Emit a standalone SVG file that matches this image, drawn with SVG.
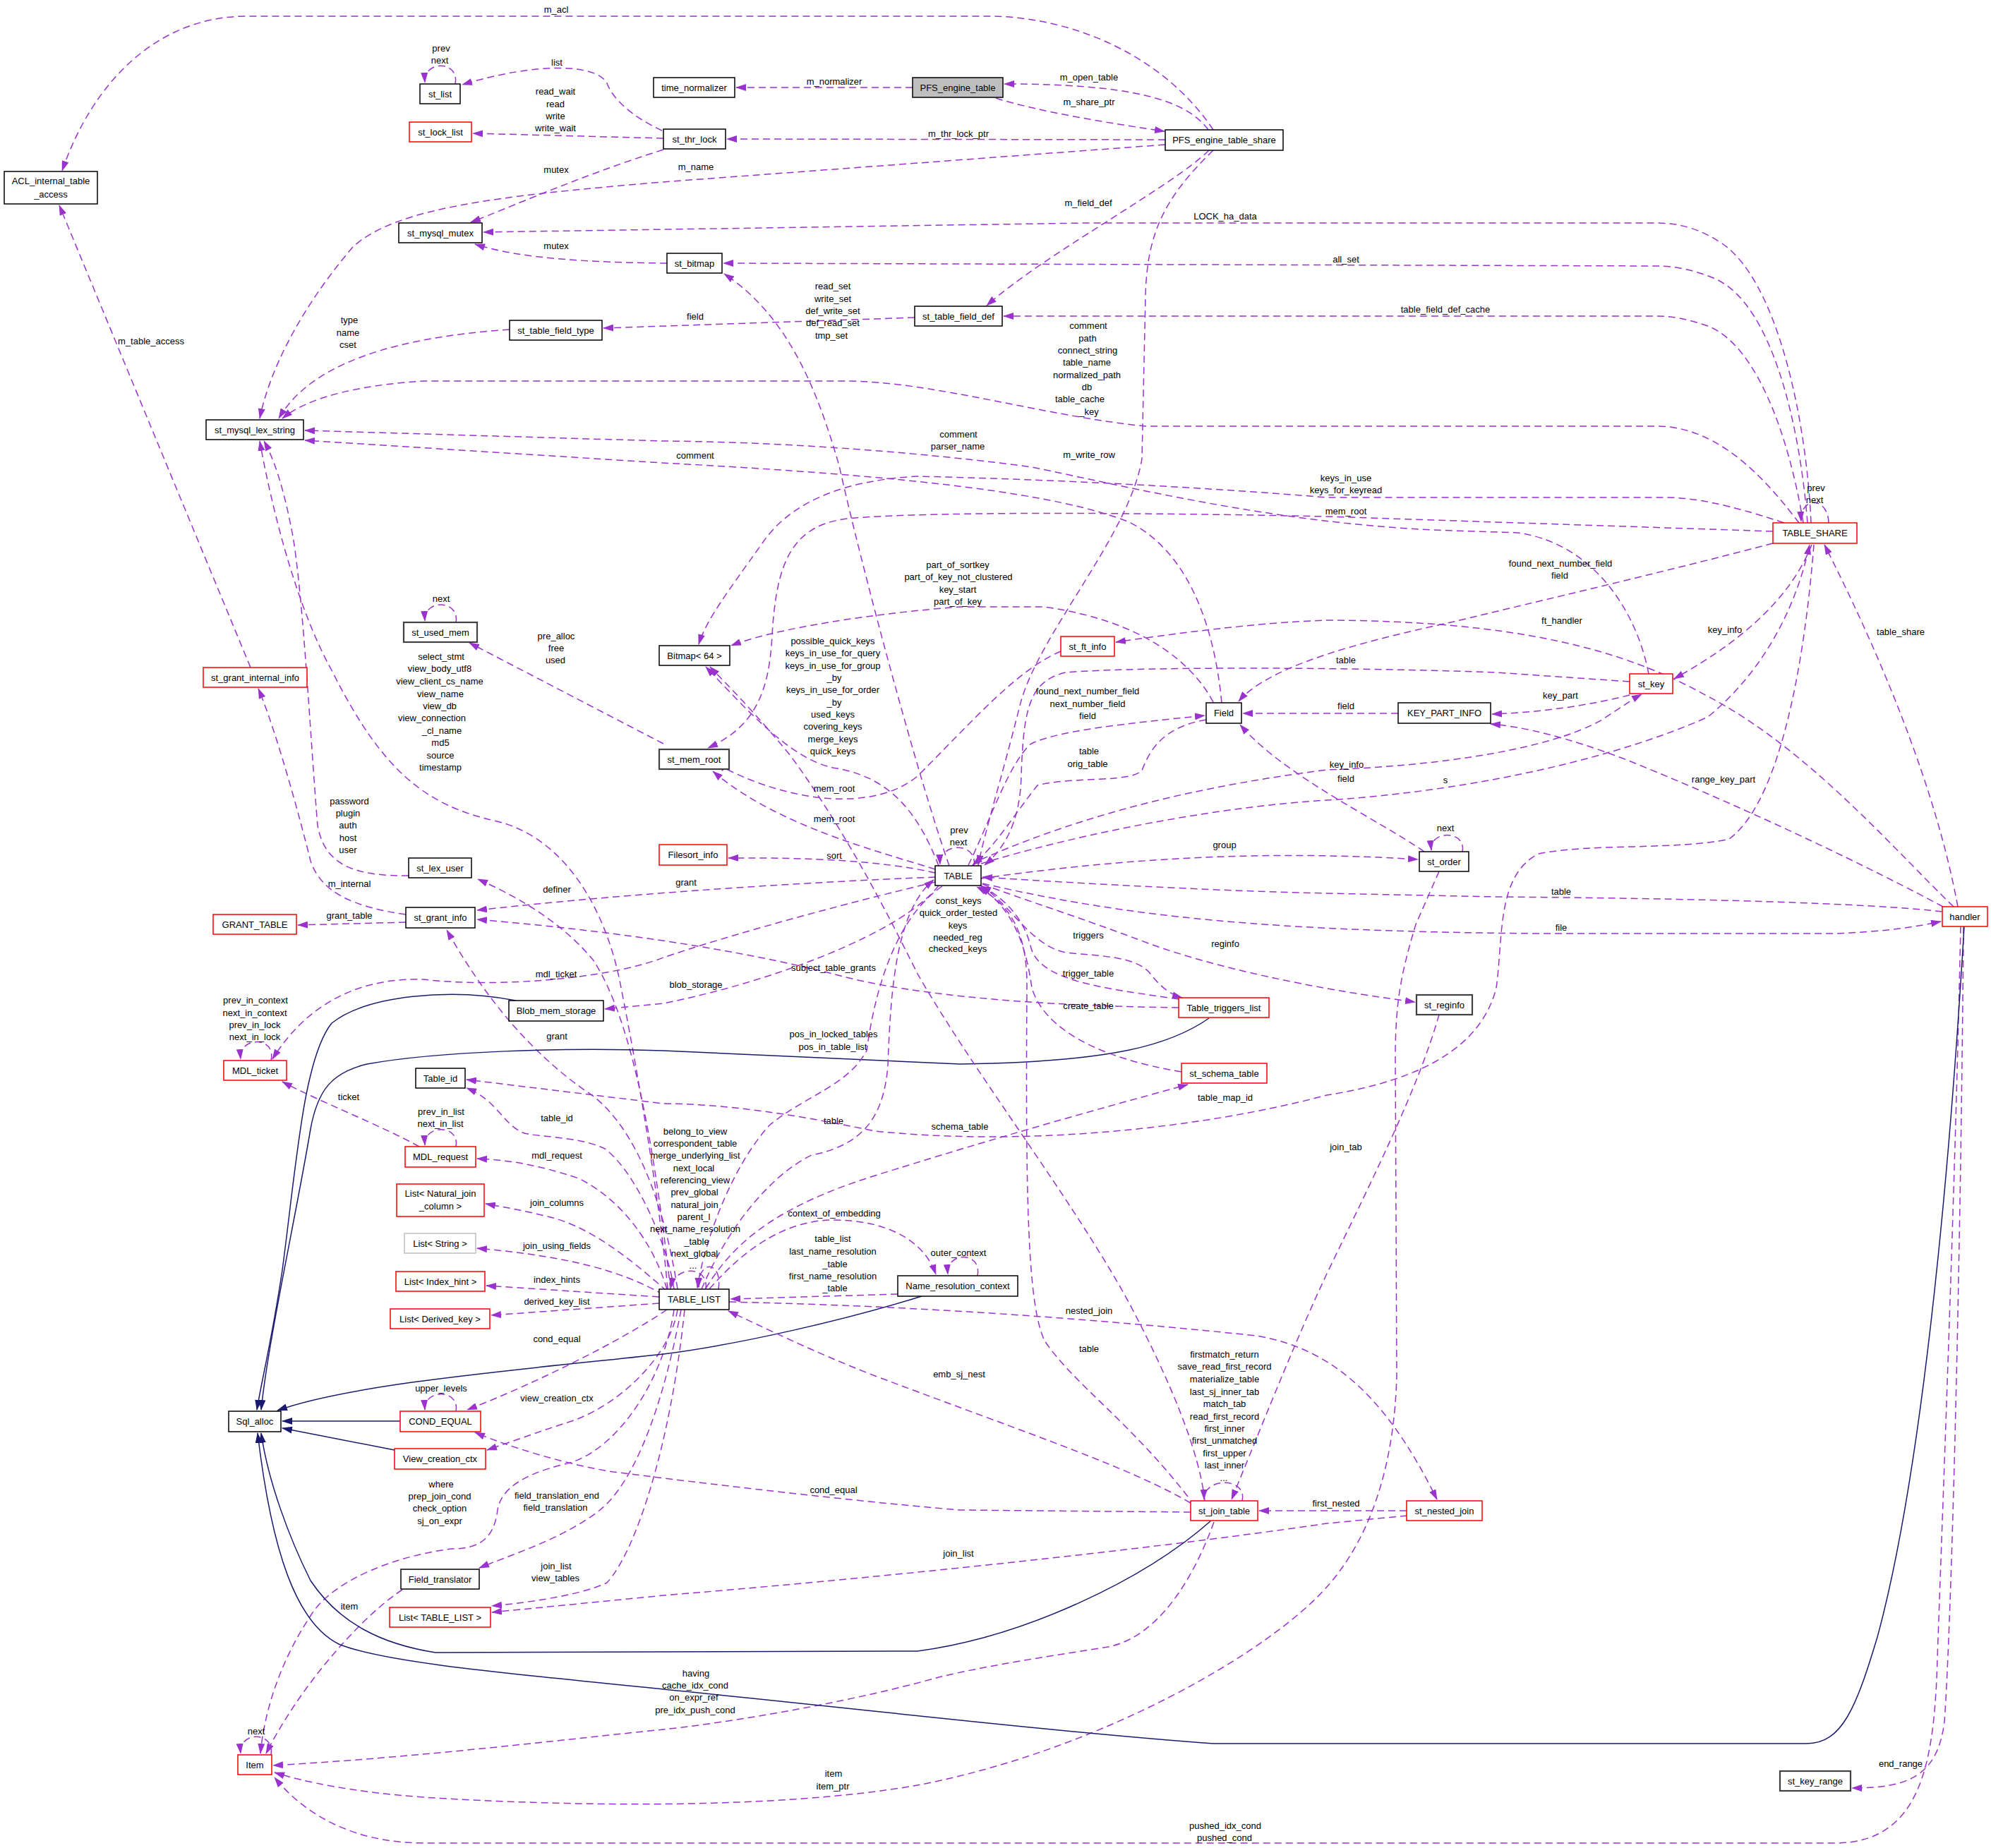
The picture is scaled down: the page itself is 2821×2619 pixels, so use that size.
<svg xmlns="http://www.w3.org/2000/svg" width="2821" height="2619" viewBox="0 0 2821 2619">
<style>
.n rect{fill:#fff;stroke:#000;stroke-width:1.5}
.n.r rect{stroke:#ff0000}
.n.g rect{stroke:#bfbfbf}
.n.d rect{stroke:#404040;stroke-width:2.2}
.n.m rect{fill:#bfbfbf}
text{font-family:"Liberation Sans",Arial,sans-serif;font-size:13px;text-anchor:middle;dominant-baseline:central;fill:#000}
.e{fill:none;stroke:#9a32cd;stroke-width:1.5;stroke-dasharray:10,6;marker-end:url(#ap)}
.s{fill:none;stroke:#191970;stroke-width:1.5;marker-end:url(#an)}
</style>
<defs>
<marker id="ap" viewBox="0 0 15 10" refX="14" refY="5" markerWidth="15" markerHeight="10" markerUnits="userSpaceOnUse" orient="auto"><path d="M0,0 L15,5 L0,10 z" fill="#9a32cd" stroke="none"/></marker>
<marker id="an" viewBox="0 0 15 10" refX="14" refY="5" markerWidth="15" markerHeight="10" markerUnits="userSpaceOnUse" orient="auto"><path d="M0,0 L15,5 L0,10 z" fill="#191970" stroke="none"/></marker>
</defs>
<rect x="0" y="0" width="2821" height="2619" fill="#fff"/>
<g id="connectors">
<path class="e" d="M1293,124 L1043,124"/>
<path class="e" d="M1411,139 C1470,158 1580,176 1650,186"/>
<path class="e" d="M1712,184 C1680,140 1600,119 1423,119"/>
<path class="e" d="M1719,184 C1650,80 1520,23 1400,23 L350,23 C220,23 130,120 88,242"/>
<path class="e" d="M1651,198 L1030,197"/>
<path class="e" d="M1651,205 L938,258 C700,278 560,295 500,350 C440,420 385,510 368,593"/>
<path class="e" d="M1713,213 C1660,265 1480,360 1398,433"/>
<path class="e" d="M1719,213 C1650,280 1625,330 1623,420 L1618,650 C1600,760 1470,900 1445,1000 C1420,1100 1395,1180 1386,1226"/>
<path class="e" d="M2566,741 C2560,600 2520,400 2440,345 C2410,325 2380,316 2348,316 L1540,316 L685,329"/>
<path class="e" d="M2561,741 C2550,600 2510,430 2430,395 C2400,382 2370,377 2348,377 L1025,373"/>
<path class="e" d="M2555,741 C2535,620 2490,490 2420,462 C2390,452 2370,448 2348,448 L1422,448"/>
<path class="e" d="M2549,741 C2510,690 2440,604 2348,604 L1623,604 C1480,590 1320,540 1198,540 L600,540 C520,545 440,560 400,593"/>
<path class="e" d="M645,119 C652,86 600,84 602,117"/>
<path class="e" d="M938,185 C895,165 868,140 860,118 C845,90 760,88 655,120"/>
<path class="e" d="M940,196 L670,189"/>
<path class="e" d="M940,212 C820,250 720,295 667,315"/>
<path class="e" d="M945,373 C850,372 740,368 673,346"/>
<path class="e" d="M722,467 C560,478 440,515 395,593"/>
<path class="e" d="M1296,450 L855,465"/>
<path class="e" d="M355,946 L84,291"/>
<path class="e" d="M646,882 C652,850 600,848 602,880"/>
<path class="e" d="M940,1054 L665,911"/>
<path class="e" d="M946,1827 C935,1700 900,1500 880,1400 C860,1290 800,1185 700,1163 C600,1140 540,1090 470,950 C420,860 385,720 368,625"/>
<path class="e" d="M579,1241 C500,1242 460,1225 450,1170 C440,1050 430,850 415,760 C400,680 385,645 374,625"/>
<path class="e" d="M575,1296 C500,1285 455,1265 440,1220 C415,1120 385,1020 366,976"/>
<path class="e" d="M575,1307 L422,1311"/>
<path class="e" d="M950,1827 C930,1650 900,1450 840,1360 C790,1300 720,1265 677,1246"/>
<path class="e" d="M1325,1243 C1150,1250 900,1265 676,1290"/>
<path class="e" d="M960,1827 C940,1700 900,1600 840,1553 C760,1500 690,1420 633,1318"/>
<path class="e" d="M1670,1428 C1500,1426 1300,1414 1180,1380 C1060,1350 900,1322 676,1303"/>
<path class="e" d="M1325,1250 C1200,1280 1050,1320 940,1357 C860,1388 700,1400 600,1388 C500,1385 430,1430 386,1501"/>
<path class="e" d="M1330,1255 C1280,1320 1100,1390 940,1422 L857,1430"/>
<path class="e" d="M384,1503 C392,1468 338,1468 341,1501"/>
<path class="e" d="M594,1625 C540,1595 450,1560 400,1533"/>
<path class="e" d="M646,1625 C652,1593 600,1593 602,1623"/>
<path class="e" d="M945,1827 C925,1760 880,1700 820,1670 C760,1650 720,1644 676,1642"/>
<path class="e" d="M945,1830 C900,1790 840,1740 780,1725 C740,1715 710,1710 688,1706"/>
<path class="e" d="M940,1835 C880,1800 800,1780 676,1769"/>
<path class="e" d="M934,1838 L689,1822"/>
<path class="e" d="M934,1847 L696,1864"/>
<path class="e" d="M945,1856 C880,1900 760,1960 662,1998"/>
<path class="e" d="M646,2000 C652,1968 600,1968 602,1998"/>
<path class="e" d="M960,1856 C950,1920 880,1990 810,2014 C760,2030 720,2045 690,2055"/>
<path class="e" d="M955,1856 C940,1960 870,2060 800,2075 C740,2090 710,2110 705,2140 C700,2180 680,2195 640,2195 C560,2205 470,2240 440,2290 C400,2350 375,2420 369,2485"/>
<path class="e" d="M965,1856 C940,1990 900,2100 850,2140 C800,2180 720,2205 679,2222"/>
<path class="e" d="M970,1856 C950,2050 900,2200 860,2243 C820,2262 740,2272 697,2276"/>
<path class="e" d="M1994,2148 L1880,2159 C1600,2200 1200,2240 940,2261 L697,2285"/>
<path class="e" d="M570,2253 C520,2285 430,2380 377,2485"/>
<path class="e" d="M2039,1235 L2006,1310 C1985,1380 1977,1420 1977,1500 L1979,1950 C1976,2060 1950,2170 1880,2249 C1800,2340 1560,2480 1300,2530 C1100,2565 800,2560 600,2547 C500,2540 430,2525 389,2512"/>
<path class="e" d="M2778,1313 C2770,1700 2750,2200 2744,2380 C2738,2500 2720,2612 2600,2612 L600,2612 C500,2612 430,2570 389,2519"/>
<path class="e" d="M2782,1313 C2778,1800 2765,2300 2755,2440 C2745,2520 2700,2534 2624,2534"/>
<path class="e" d="M1720,2157 C1690,2240 1640,2320 1570,2334 C1500,2345 1400,2360 1330,2377 C1180,2419 1000,2445 940,2451 C800,2465 600,2490 387,2502"/>
<path class="s" d="M2783,1313 C2760,1700 2720,2100 2660,2320 C2630,2420 2610,2471 2560,2471 L1719,2471 C1500,2455 1200,2420 940,2394 C700,2370 540,2355 480,2330 C420,2300 385,2200 365,2031"/>
<path class="s" d="M1716,2155 C1620,2240 1450,2320 1300,2340 L617,2342 C540,2330 480,2300 440,2240 C410,2180 380,2100 370,2031"/>
<path class="s" d="M731,1418 C640,1400 520,1410 470,1450 C430,1500 420,1650 400,1800 C385,1900 370,1960 364,1998"/>
<path class="s" d="M1713,1443 C1660,1480 1580,1505 1360,1508 L940,1489 C800,1484 620,1490 520,1508 C470,1520 450,1545 440,1600 C420,1720 380,1900 370,1998"/>
<path class="s" d="M1306,1837 C1200,1870 1050,1905 940,1919 C750,1940 500,1960 393,1999"/>
<path class="s" d="M567,2014 L400,2014"/>
<path class="s" d="M559,2055 L400,2024"/>
<path class="e" d="M384,2487 C390,2453 338,2453 341,2485"/>
<path class="e" d="M1380,1227 C1386,1193 1330,1193 1332,1225"/>
<path class="e" d="M1325,1237 C1250,1220 1150,1215 1032,1216"/>
<path class="e" d="M1325,1232 C1240,1205 1100,1170 1010,1093"/>
<path class="e" d="M1503,923 C1440,950 1380,1020 1300,1100 C1240,1150 1120,1140 1014,1082"/>
<path class="e" d="M2512,753 L1880,732 C1600,726 1300,725 1200,735 C1120,745 1100,800 1094,900 C1090,980 1070,1030 1003,1060"/>
<path class="e" d="M2528,741 C2450,715 2400,705 2360,705 L1880,705 C1700,690 1480,679 1300,675 C1200,680 1120,710 1080,770 C1030,840 1000,880 990,913"/>
<path class="e" d="M1719,995 C1690,940 1620,880 1480,860 L1360,860 C1240,869 1100,890 1036,915"/>
<path class="e" d="M1330,1227 C1300,1150 1260,1100 1180,1088 C1120,1075 1060,1008 1000,945"/>
<path class="e" d="M1707,2127 C1700,2060 1660,1960 1600,1847 C1520,1700 1380,1520 1300,1380 C1260,1300 1200,1180 1120,1071 C1070,1010 1030,970 1006,945"/>
<path class="e" d="M1345,1227 C1300,1100 1220,800 1189,660 C1160,560 1120,450 1026,388"/>
<path class="e" d="M1372,1226 C1400,1170 1430,1080 1461,1054 C1500,1035 1600,1025 1707,1014"/>
<path class="e" d="M1709,1020 C1650,1030 1630,1060 1618,1092 C1600,1110 1520,1100 1470,1113 C1440,1150 1410,1200 1378,1226"/>
<path class="e" d="M1731,996 C1720,880 1680,780 1600,740 C1500,700 1300,675 938,656 L432,624"/>
<path class="e" d="M2336,955 C2320,870 2260,770 2150,755 L2030,751 C1800,740 1600,690 1462,662 C1300,640 1100,626 938,625 L432,610"/>
<path class="e" d="M2512,770 C2360,810 2180,852 2060,881 C1950,905 1800,940 1755,994"/>
<path class="e" d="M2309,966 L2120,953 C1900,945 1600,945 1510,953 C1460,965 1450,1000 1447,1100 C1445,1170 1420,1205 1395,1226"/>
<path class="e" d="M1390,1218 C1500,1170 1650,1120 1880,1091 C2050,1085 2200,1060 2270,1020 C2300,1000 2315,990 2326,984"/>
<path class="e" d="M1390,1224 C1500,1190 1700,1145 1880,1134 C2100,1120 2300,1070 2420,1016 C2500,950 2545,860 2564,772"/>
<path class="e" d="M2018,1207 C1950,1160 1820,1100 1757,1027"/>
<path class="e" d="M1390,1245 C1600,1215 1800,1205 2009,1218"/>
<path class="e" d="M2072,1207 C2078,1176 2025,1176 2028,1205"/>
<path class="e" d="M2752,1292 C2650,1280 2400,1273 2120,1271 L1880,1266 C1700,1262 1500,1250 1392,1243"/>
<path class="e" d="M1392,1252 C1600,1300 1800,1320 2180,1323 L2600,1323 C2680,1320 2720,1312 2750,1306"/>
<path class="e" d="M2768,1285 C2680,1200 2560,1060 2420,987 C2300,920 2150,880 1880,879 C1780,882 1650,900 1581,910"/>
<path class="e" d="M2774,1285 C2740,1100 2650,900 2585,772"/>
<path class="e" d="M2753,1285 C2660,1235 2480,1147 2300,1075 C2220,1045 2160,1030 2112,1026"/>
<path class="e" d="M2309,985 C2250,1000 2180,1010 2114,1012"/>
<path class="e" d="M1981,1011 L1761,1011"/>
<path class="e" d="M2567,772 C2540,840 2480,902 2372,962"/>
<path class="e" d="M2591,741 C2590,703 2550,703 2552,739"/>
<path class="e" d="M2570,772 C2560,900 2530,1130 2450,1189 C2380,1205 2250,1195 2180,1210 C2120,1240 2130,1330 2120,1400 C2100,1480 2020,1530 1880,1552 C1700,1600 1450,1625 1240,1603 C1150,1585 1050,1565 940,1564 L661,1530"/>
<path class="e" d="M955,1827 C945,1760 900,1660 857,1628 C820,1610 760,1612 740,1605 C710,1590 705,1560 661,1542"/>
<path class="e" d="M1392,1253 C1450,1275 1530,1300 1630,1338 C1720,1370 1850,1400 2005,1420"/>
<path class="e" d="M2039,1438 C2010,1540 1950,1660 1880,1805 C1840,1890 1800,1990 1745,2125"/>
<path class="e" d="M1390,1255 C1430,1280 1460,1340 1510,1350 C1560,1355 1610,1355 1630,1380 C1645,1400 1660,1410 1675,1414"/>
<path class="e" d="M1670,1416 C1560,1400 1470,1390 1460,1340 C1450,1300 1420,1270 1390,1256"/>
<path class="e" d="M1674,1519 C1560,1500 1480,1460 1462,1400 C1455,1350 1440,1290 1388,1257"/>
<path class="e" d="M1683,2121 C1600,2014 1520,1960 1480,1900 C1456,1850 1453,1700 1455,1400 C1456,1320 1430,1280 1384,1257"/>
<path class="e" d="M1000,1826 C1040,1760 1100,1710 1240,1666 C1450,1600 1600,1560 1683,1537"/>
<path class="e" d="M994,1827 C1030,1742 1090,1666 1150,1637 C1216,1624 1252,1590 1258,1510 C1262,1400 1270,1290 1323,1247"/>
<path class="e" d="M1335,1256 C1270,1300 1240,1400 1228,1489 C1200,1540 1140,1553 1090,1595 C1040,1650 1000,1750 988,1825"/>
<path class="e" d="M1000,1827 C1005,1793 955,1793 951,1825"/>
<path class="e" d="M1018,1827 C1024,1785 988,1785 990,1825"/>
<path class="e" d="M1005,1827 C1060,1763 1120,1729 1180,1729 C1260,1729 1310,1760 1326,1806"/>
<path class="e" d="M1385,1808 C1392,1773 1340,1773 1343,1806"/>
<path class="e" d="M1272,1834 L1035,1841"/>
<path class="e" d="M1033,1845 C1300,1851 1540,1868 1780,1893 C1880,1910 1960,1970 2036,2125"/>
<path class="e" d="M1993,2141 L1784,2141"/>
<path class="e" d="M1760,2127 C1768,2093 1705,2093 1706,2125"/>
<path class="e" d="M1687,2130 C1600,2080 1480,2040 1240,1950 C1150,1915 1080,1880 1032,1858"/>
<path class="e" d="M1687,2143 L1360,2140 C1180,2125 940,2095 869,2086 C800,2075 720,2050 673,2030"/>
</g>
<g id="edge-labels">
<text x="788" y="13">m_acl</text>
<text x="625" y="68">prev</text><text x="623" y="85">next</text>
<text x="789" y="88">list</text>
<text x="787" y="129">read_wait</text><text x="787" y="147">read</text><text x="787" y="164">write</text><text x="787" y="181">write_wait</text>
<text x="788" y="240">mutex</text>
<text x="788" y="348">mutex</text>
<text x="495" y="453">type</text><text x="493" y="471">name</text><text x="493" y="488">cset</text>
<text x="214" y="483">m_table_access</text>
<text x="1182" y="115">m_normalizer</text>
<text x="1543" y="109">m_open_table</text>
<text x="1543" y="144">m_share_ptr</text>
<text x="1358" y="189">m_thr_lock_ptr</text>
<text x="986" y="236">m_name</text>
<text x="1542" y="287">m_field_def</text>
<text x="1736" y="306">LOCK_ha_data</text>
<text x="1907" y="367">all_set</text>
<text x="2048" y="438">table_field_def_cache</text>
<text x="1180" y="405">read_set</text><text x="1180" y="423">write_set</text><text x="1180" y="440">def_write_set</text><text x="1180" y="457">def_read_set</text><text x="1178" y="475">tmp_set</text>
<text x="985" y="448">field</text>
<text x="1542" y="461">comment</text><text x="1541" y="479">path</text><text x="1541" y="496">connect_string</text><text x="1540" y="513">table_name</text><text x="1540" y="531">normalized_path</text><text x="1540" y="548">db</text><text x="1530" y="565">table_cache</text><text x="1543" y="583">_key</text>
<text x="1358" y="615">comment</text><text x="1357" y="632">parser_name</text>
<text x="985" y="645">comment</text>
<text x="1543" y="644">m_write_row</text>
<text x="625" y="848">next</text>
<text x="788" y="901">pre_alloc</text><text x="788" y="918">free</text><text x="787" y="935">used</text>
<text x="625" y="930">select_stmt</text><text x="623" y="947">view_body_utf8</text><text x="623" y="965">view_client_cs_name</text><text x="624" y="983">view_name</text><text x="623" y="1000">view_db</text><text x="612" y="1017">view_connection</text><text x="626" y="1035">_cl_name</text><text x="624" y="1052">md5</text><text x="624" y="1070">source</text><text x="624" y="1087">timestamp</text>
<text x="495" y="1135">password</text><text x="493" y="1152">plugin</text><text x="493" y="1169">auth</text><text x="493" y="1187">host</text><text x="493" y="1204">user</text>
<text x="495" y="1252">m_internal</text>
<text x="789" y="1260">definer</text>
<text x="495" y="1297">grant_table</text>
<text x="1357" y="800">part_of_sortkey</text><text x="1358" y="817">part_of_key_not_clustered</text><text x="1357" y="835">key_start</text><text x="1357" y="852">part_of_key</text>
<text x="1180" y="908">possible_quick_keys</text><text x="1180" y="925">keys_in_use_for_query</text><text x="1180" y="943">keys_in_use_for_group</text><text x="1182" y="960">_by</text><text x="1180" y="977">keys_in_use_for_order</text><text x="1182" y="995">_by</text><text x="1180" y="1012">used_keys</text><text x="1180" y="1029">covering_keys</text><text x="1180" y="1047">merge_keys</text><text x="1180" y="1064">quick_keys</text>
<text x="1541" y="979">found_next_number_field</text><text x="1541" y="997">next_number_field</text><text x="1541" y="1014">field</text>
<text x="1543" y="1064">table</text><text x="1541" y="1082">orig_table</text>
<text x="1182" y="1117">mem_root</text>
<text x="1182" y="1160">mem_root</text>
<text x="1359" y="1176">prev</text><text x="1358" y="1193">next</text>
<text x="1182" y="1212">sort</text>
<text x="972" y="1250">grant</text>
<text x="1735" y="1197">group</text>
<text x="1358" y="1276">const_keys</text><text x="1358" y="1293">quick_order_tested</text><text x="1357" y="1311">keys</text><text x="1357" y="1328">needed_reg</text><text x="1357" y="1344">checked_keys</text>
<text x="1907" y="677">keys_in_use</text><text x="1907" y="694">keys_for_keyread</text>
<text x="1907" y="724">mem_root</text>
<text x="2573" y="691">prev</text><text x="2571" y="708">next</text>
<text x="2211" y="798">found_next_number_field</text><text x="2210" y="815">field</text>
<text x="2213" y="879">ft_handler</text>
<text x="2444" y="892">key_info</text>
<text x="2693" y="895">table_share</text>
<text x="1907" y="935">table</text>
<text x="2211" y="985">key_part</text>
<text x="1907" y="1000">field</text>
<text x="1908" y="1083">key_info</text><text x="1907" y="1103">field</text><text x="2048" y="1105">s</text>
<text x="2442" y="1104">range_key_part</text>
<text x="2048" y="1173">next</text>
<text x="2212" y="1263">table</text>
<text x="2212" y="1314">file</text>
<text x="1907" y="1625">join_tab</text>
<text x="788" y="1380">mdl_ticket</text>
<text x="362" y="1417">prev_in_context</text><text x="361" y="1435">next_in_context</text><text x="361" y="1452">prev_in_lock</text><text x="361" y="1469">next_in_lock</text>
<text x="789" y="1468">grant</text>
<text x="494" y="1554">ticket</text>
<text x="625" y="1575">prev_in_list</text><text x="624" y="1592">next_in_list</text>
<text x="789" y="1584">table_id</text>
<text x="789" y="1637">mdl_request</text>
<text x="789" y="1704">join_columns</text>
<text x="789" y="1765">join_using_fields</text>
<text x="789" y="1813">index_hints</text>
<text x="789" y="1844">derived_key_list</text>
<text x="789" y="1897">cond_equal</text>
<text x="1542" y="1325">triggers</text>
<text x="1736" y="1337">reginfo</text>
<text x="1181" y="1371">subject_table_grants</text>
<text x="986" y="1395">blob_storage</text>
<text x="1542" y="1379">trigger_table</text>
<text x="1542" y="1425">create_table</text>
<text x="1181" y="1465">pos_in_locked_tables</text><text x="1180" y="1483">pos_in_table_list</text>
<text x="1736" y="1555">table_map_id</text>
<text x="1181" y="1588">table</text>
<text x="1360" y="1596">schema_table</text>
<text x="985" y="1603">belong_to_view</text><text x="985" y="1620">correspondent_table</text><text x="985" y="1637">merge_underlying_list</text><text x="983" y="1655">next_local</text><text x="985" y="1672">referencing_view</text><text x="984" y="1689">prev_global</text><text x="984" y="1707">natural_join</text><text x="983" y="1724">parent_l</text><text x="985" y="1741">next_name_resolution</text><text x="987" y="1759">_table</text><text x="984" y="1776">next_global</text><text x="982" y="1793">...</text>
<text x="1182" y="1719">context_of_embedding</text>
<text x="1180" y="1755">table_list</text><text x="1180" y="1773">last_name_resolution</text><text x="1183" y="1791">_table</text><text x="1180" y="1808">first_name_resolution</text><text x="1183" y="1825">_table</text>
<text x="1358" y="1775">outer_context</text>
<text x="1543" y="1857">nested_join</text>
<text x="1543" y="1911">table</text>
<text x="1735" y="1919">firstmatch_return</text><text x="1735" y="1936">save_read_first_record</text><text x="1735" y="1954">materialize_table</text><text x="1735" y="1972">last_sj_inner_tab</text><text x="1735" y="1989">match_tab</text><text x="1735" y="2007">read_first_record</text><text x="1735" y="2024">first_inner</text><text x="1735" y="2041">first_unmatched</text><text x="1735" y="2059">first_upper</text><text x="1735" y="2076">last_inner</text><text x="1734" y="2094">...</text>
<text x="1359" y="1947">emb_sj_nest</text>
<text x="625" y="1967">upper_levels</text>
<text x="789" y="1981">view_creation_ctx</text>
<text x="625" y="2103">where</text><text x="623" y="2120">prep_join_cond</text><text x="623" y="2137">check_option</text><text x="623" y="2155">sj_on_expr</text>
<text x="789" y="2119">field_translation_end</text><text x="787" y="2136">field_translation</text>
<text x="788" y="2219">join_list</text><text x="787" y="2236">view_tables</text>
<text x="495" y="2276">item</text>
<text x="363" y="2453">next</text>
<text x="1181" y="2111">cond_equal</text>
<text x="1358" y="2201">join_list</text>
<text x="986" y="2371">having</text><text x="985" y="2388">cache_idx_cond</text><text x="983" y="2405">on_expr_ref</text><text x="985" y="2423">pre_idx_push_cond</text>
<text x="1181" y="2513">item</text><text x="1180" y="2531">item_ptr</text>
<text x="1736" y="2587">pushed_idx_cond</text><text x="1735" y="2604">pushed_cond</text>
<text x="1893" y="2130">first_nested</text>
<text x="2693" y="2499">end_range</text>
</g>
<g id="n_ACL" class="n"><rect x="6" y="243" width="132" height="46"/><text x="72" y="256">ACL_internal_table</text><text x="72" y="275">_access</text></g>
<g id="n_st_list" class="n"><rect x="595" y="119" width="57" height="28"/><text x="623.5" y="133">st_list</text></g>
<g id="n_st_lock_list" class="n r"><rect x="580" y="173" width="88" height="28"/><text x="624" y="187">st_lock_list</text></g>
<g id="n_st_mysql_mutex" class="n"><rect x="565" y="316" width="118" height="28"/><text x="624" y="330">st_mysql_mutex</text></g>
<g id="n_st_table_field_type" class="n"><rect x="722" y="454" width="131" height="28"/><text x="787.5" y="468">st_table_field_type</text></g>
<g id="n_st_mysql_lex_string" class="n"><rect x="292" y="595" width="138" height="28"/><text x="361" y="609">st_mysql_lex_string</text></g>
<g id="n_time_normalizer" class="n"><rect x="926" y="110" width="115" height="28"/><text x="983.5" y="124">time_normalizer</text></g>
<g id="n_PFS_engine_table" class="n m"><rect x="1293" y="110" width="128" height="28"/><text x="1357" y="124">PFS_engine_table</text></g>
<g id="n_PFS_engine_table_share" class="n"><rect x="1651" y="184" width="167" height="29"/><text x="1734.5" y="198.5">PFS_engine_table_share</text></g>
<g id="n_st_thr_lock" class="n"><rect x="940" y="183" width="88" height="28"/><text x="984" y="197">st_thr_lock</text></g>
<g id="n_st_bitmap" class="n"><rect x="945" y="359" width="78" height="28"/><text x="984" y="373">st_bitmap</text></g>
<g id="n_st_table_field_def" class="n"><rect x="1296" y="434" width="124" height="28"/><text x="1358" y="448">st_table_field_def</text></g>
<g id="n_st_used_mem" class="n d"><rect x="572" y="882" width="104" height="28"/><text x="624" y="896">st_used_mem</text></g>
<g id="n_st_grant_internal_info" class="n r"><rect x="288" y="946" width="147" height="28"/><text x="361.5" y="960">st_grant_internal_info</text></g>
<g id="n_st_lex_user" class="n"><rect x="579" y="1216" width="89" height="28"/><text x="623.5" y="1230">st_lex_user</text></g>
<g id="n_st_grant_info" class="n"><rect x="575" y="1286" width="98" height="29"/><text x="624" y="1300.5">st_grant_info</text></g>
<g id="n_GRANT_TABLE" class="n r"><rect x="302" y="1296" width="118" height="28"/><text x="361" y="1310">GRANT_TABLE</text></g>
<g id="n_Bitmap64" class="n"><rect x="934" y="915" width="100" height="28"/><text x="984" y="929">Bitmap&lt; 64 &gt;</text></g>
<g id="n_st_mem_root" class="n d"><rect x="934" y="1062" width="99" height="28"/><text x="983.5" y="1076">st_mem_root</text></g>
<g id="n_Filesort_info" class="n r"><rect x="934" y="1197" width="96" height="29"/><text x="982" y="1211.5">Filesort_info</text></g>
<g id="n_TABLE" class="n"><rect x="1325" y="1227" width="65" height="28"/><text x="1357.5" y="1241">TABLE</text></g>
<g id="n_st_ft_info" class="n r"><rect x="1503" y="902" width="76" height="28"/><text x="1541" y="916">st_ft_info</text></g>
<g id="n_Field" class="n"><rect x="1709" y="996" width="50" height="29"/><text x="1734" y="1010.5">Field</text></g>
<g id="n_TABLE_SHARE" class="n r"><rect x="2512" y="741" width="119" height="29"/><text x="2571.5" y="755.5">TABLE_SHARE</text></g>
<g id="n_st_key" class="n r"><rect x="2309" y="955" width="61" height="28"/><text x="2339.5" y="969">st_key</text></g>
<g id="n_KEY_PART_INFO" class="n"><rect x="1981" y="996" width="131" height="29"/><text x="2046.5" y="1010.5">KEY_PART_INFO</text></g>
<g id="n_st_order" class="n"><rect x="2011" y="1207" width="70" height="28"/><text x="2046" y="1221">st_order</text></g>
<g id="n_handler" class="n r"><rect x="2752" y="1285" width="64" height="28"/><text x="2784" y="1299">handler</text></g>
<g id="n_Blob_mem_storage" class="n"><rect x="721" y="1418" width="134" height="29"/><text x="788" y="1432.5">Blob_mem_storage</text></g>
<g id="n_MDL_ticket" class="n r"><rect x="317" y="1503" width="89" height="28"/><text x="361.5" y="1517">MDL_ticket</text></g>
<g id="n_Table_id" class="n"><rect x="589" y="1514" width="70" height="28"/><text x="624" y="1528">Table_id</text></g>
<g id="n_MDL_request" class="n r"><rect x="574" y="1625" width="100" height="29"/><text x="624" y="1639.5">MDL_request</text></g>
<g id="n_List_Natural_join_column" class="n r"><rect x="562" y="1678" width="124" height="46"/><text x="624" y="1691">List&lt; Natural_join</text><text x="624" y="1709">_column &gt;</text></g>
<g id="n_List_String" class="n g"><rect x="573" y="1748" width="101" height="28"/><text x="623.5" y="1762">List&lt; String &gt;</text></g>
<g id="n_List_Index_hint" class="n r"><rect x="561" y="1802" width="126" height="28"/><text x="624" y="1816">List&lt; Index_hint &gt;</text></g>
<g id="n_List_Derived_key" class="n r"><rect x="553" y="1855" width="141" height="28"/><text x="623.5" y="1869">List&lt; Derived_key &gt;</text></g>
<g id="n_Table_triggers_list" class="n r"><rect x="1670" y="1414" width="128" height="28"/><text x="1734" y="1428">Table_triggers_list</text></g>
<g id="n_st_schema_table" class="n r"><rect x="1674" y="1507" width="121" height="28"/><text x="1734.5" y="1521">st_schema_table</text></g>
<g id="n_TABLE_LIST" class="n"><rect x="934" y="1827" width="99" height="29"/><text x="983.5" y="1841.5">TABLE_LIST</text></g>
<g id="n_Name_resolution_context" class="n"><rect x="1272" y="1808" width="170" height="29"/><text x="1357" y="1822.5">Name_resolution_context</text></g>
<g id="n_st_reginfo" class="n d"><rect x="2007" y="1410" width="79" height="28"/><text x="2046.5" y="1424">st_reginfo</text></g>
<g id="n_Sql_alloc" class="n"><rect x="324" y="2000" width="74" height="29"/><text x="361" y="2014.5">Sql_alloc</text></g>
<g id="n_COND_EQUAL" class="n r"><rect x="567" y="2000" width="114" height="29"/><text x="624" y="2014.5">COND_EQUAL</text></g>
<g id="n_View_creation_ctx" class="n r"><rect x="559" y="2053" width="129" height="29"/><text x="623.5" y="2067.5">View_creation_ctx</text></g>
<g id="n_Field_translator" class="n"><rect x="568" y="2224" width="111" height="28"/><text x="623.5" y="2238">Field_translator</text></g>
<g id="n_List_TABLE_LIST" class="n r"><rect x="552" y="2278" width="143" height="28"/><text x="623.5" y="2292">List&lt; TABLE_LIST &gt;</text></g>
<g id="n_Item" class="n r"><rect x="337" y="2487" width="48" height="28"/><text x="361" y="2501">Item</text></g>
<g id="n_st_join_table" class="n r"><rect x="1687" y="2127" width="95" height="28"/><text x="1734.5" y="2141">st_join_table</text></g>
<g id="n_st_nested_join" class="n r"><rect x="1993" y="2127" width="107" height="28"/><text x="2046.5" y="2141">st_nested_join</text></g>
<g id="n_st_key_range" class="n d"><rect x="2522" y="2510" width="100" height="28"/><text x="2572" y="2524">st_key_range</text></g>
</svg>
